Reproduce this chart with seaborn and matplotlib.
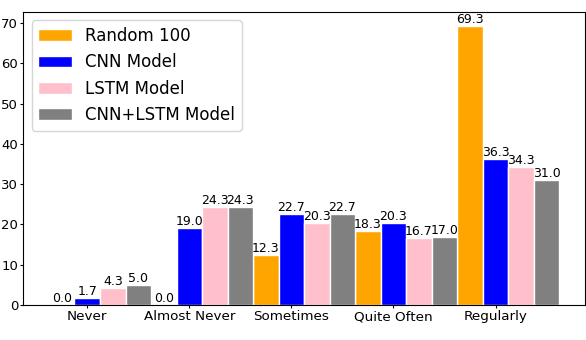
import numpy as np
import pandas as pd
import matplotlib
matplotlib.use("Agg")
import matplotlib.pyplot as plt
import seaborn as sns

# Данни, прочетени от картинката
categories = ["Never", "Almost Never", "Sometimes", "Quite Often", "Regularly"]
random_100 = [0.0, 0.0, 12.3, 18.3, 69.3]
cnn_model = [1.7, 19.0, 22.7, 20.3, 36.3]
lstm_model = [4.3, 24.3, 20.3, 16.7, 34.3]
cnn_lstm_model = [5.0, 24.3, 22.7, 17.0, 31.0]
series_names = ["Random 100", "CNN Model", "LSTM Model", "CNN+LSTM Model"]
colors = ["orange", "blue", "pink", "gray"]

df = pd.DataFrame({
    "category": categories * 4,
    "model": np.repeat(series_names, len(categories)),
    "value": random_100 + cnn_model + lstm_model + cnn_lstm_model,
})

fig = plt.figure(figsize=(5.86, 3.40), dpi=100)
ax = fig.add_axes([0.04, 0.103, 0.958, 0.862])

sns.barplot(data=df, x="category", y="value", hue="model", order=categories,
            hue_order=series_names, palette=colors, width=1.0, gap=0,
            errorbar=None, edgecolor="white", linewidth=1, saturation=1, ax=ax)

for cont in ax.containers:
    ax.bar_label(cont, fmt="%.1f", fontsize=9, padding=0)

# етикетите стоят под втората колона на всяка група
ax.set_xticks(np.arange(len(categories)) - 0.125)
ax.set_xticklabels(categories, fontsize=9.7)
ax.tick_params(axis="y", labelsize=9.5)
ax.tick_params(length=2.5, pad=1.3)
ax.set_xlim(-0.75, 4.75)
ax.set_ylim(0, 69.3 * 1.05)
ax.set_xlabel("")
ax.set_ylabel("")
ax.legend(loc="upper left", fontsize=12)

fig.savefig("out.png", dpi=100)
